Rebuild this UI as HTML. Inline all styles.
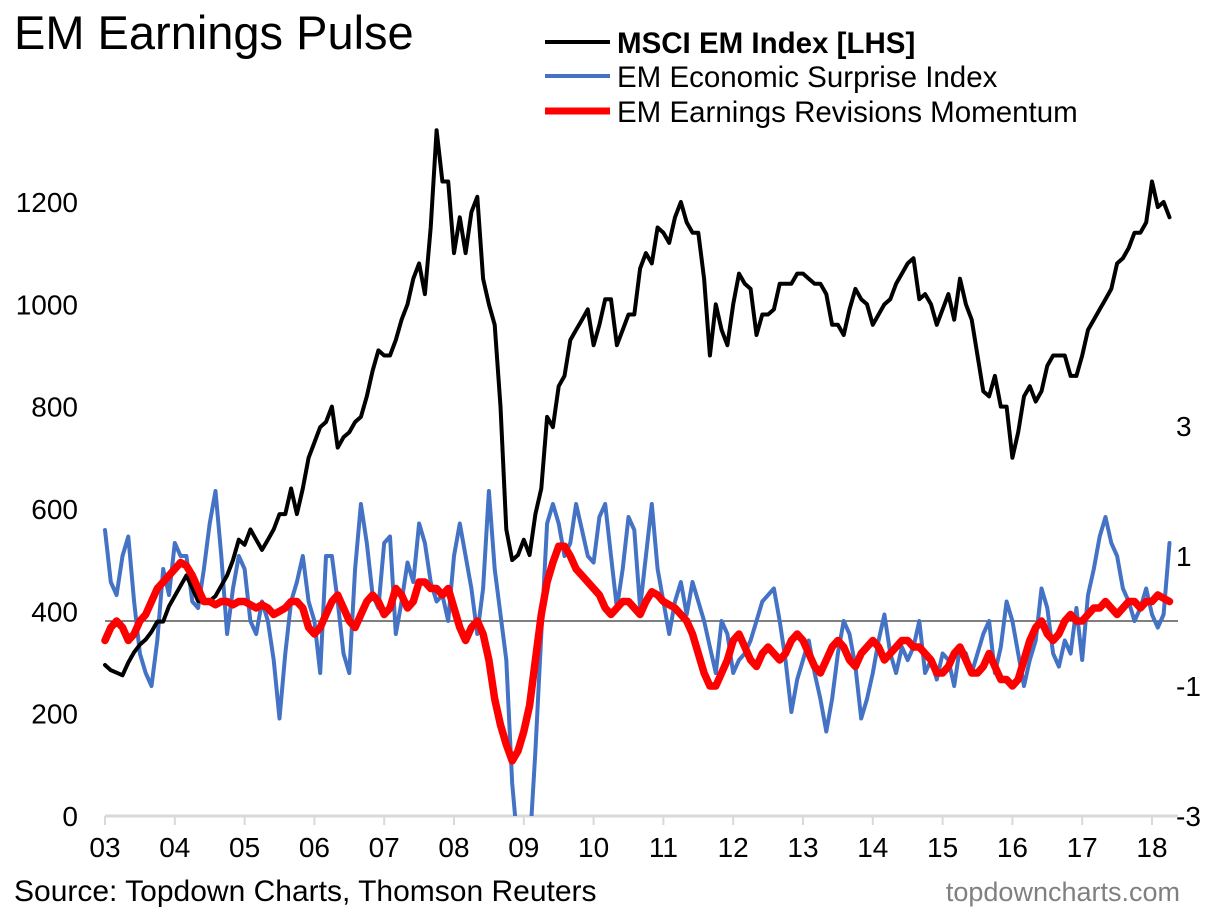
<!DOCTYPE html>
<html><head><meta charset="utf-8"><style>
body{margin:0;background:#fff;}
svg{display:block;font-family:"Liberation Sans",sans-serif;}
</style></head><body>
<svg width="1219" height="917" viewBox="0 0 1219 917">
<text x="14" y="49" font-size="47" fill="#000">EM Earnings Pulse</text>
<g>
<line x1="545" y1="42" x2="610" y2="42" stroke="#000" stroke-width="4"/>
<text x="617" y="53" font-size="29.5" font-weight="bold">MSCI EM Index [LHS]</text>
<line x1="545" y1="76" x2="610" y2="76" stroke="#4472C4" stroke-width="4"/>
<text x="617" y="87" font-size="29.5">EM Economic Surprise Index</text>
<line x1="545" y1="111" x2="610" y2="111" stroke="#f00" stroke-width="7"/>
<text x="617" y="122" font-size="29.5">EM Earnings Revisions Momentum</text>
</g>
<defs><clipPath id="pc"><rect x="100" y="100" width="1090" height="716"/></clipPath></defs>
<g id="yl"></g>
<g id="yr"></g>
<line x1="105" y1="621" x2="1178" y2="621" stroke="#000" stroke-width="1"/>
<g id="xa"></g>
<g clip-path="url(#pc)" id="series"></g>
<text x="14" y="901" font-size="30">Source: Topdown Charts, Thomson Reuters</text>
<text x="1180" y="901" font-size="27" fill="#808080" text-anchor="end">topdowncharts.com</text>
</svg>
<script>
const yearLabels=["03","04","05","06","07","08","09","10","11","12","13","14","15","16","17","18"];
const leftTicks=[0,200,400,600,800,1000,1200];
const rightTicks=[3,1,-1,-3];
const msci=[295,285,280,275,300,320,335,345,360,380,380,410,
430,450,470,445,420,420,420,430,450,470,500,540,
530,560,540,520,540,560,590,590,640,590,640,700,
730,760,770,800,720,740,750,770,780,820,870,910,
900,900,930,970,1000,1050,1080,1020,1150,1340,1240,1240,
1100,1170,1100,1180,1210,1050,1000,960,800,560,500,510,
540,510,590,640,780,760,840,860,930,950,970,990,
920,960,1010,1010,920,950,980,980,1070,1100,1080,1150,
1140,1120,1170,1200,1160,1140,1140,1050,900,1000,950,920,
1000,1060,1040,1030,940,980,980,990,1040,1040,1040,1060,
1060,1050,1040,1040,1020,960,960,940,990,1030,1010,1000,
960,980,1000,1010,1040,1060,1080,1090,1010,1020,1000,960,
990,1020,970,1050,1000,970,900,830,820,860,800,800,
700,750,820,840,810,830,880,900,900,900,860,860,
900,950,970,990,1010,1030,1080,1090,1110,1140,1140,1160,
1240,1190,1200,1170];
const surprise=[1.4,0.6,0.4,1.0,1.3,0.3,-0.5,-0.8,-1.0,-0.3,0.8,0.4,
1.2,1.0,1.0,0.3,0.2,0.8,1.5,2.0,1.0,-0.2,0.5,1.0,
0.8,0.0,-0.2,0.3,0.0,-0.6,-1.5,-0.5,0.3,0.6,1.0,0.3,
0.0,-0.8,1.0,1.0,0.3,-0.5,-0.8,0.8,1.8,1.2,0.4,0.2,
1.2,1.3,-0.2,0.3,0.9,0.6,1.5,1.2,0.6,0.3,0.4,0.0,
1.0,1.5,1.0,0.5,-0.2,0.5,2.0,0.8,0.1,-0.6,-2.5,-3.5,
-4.0,-3.5,-2.0,-0.2,1.5,1.8,1.5,1.0,1.2,1.8,1.4,1.0,
0.9,1.6,1.8,1.0,0.2,0.8,1.6,1.4,0.2,1.0,1.8,0.8,
0.3,-0.2,0.3,0.6,0.1,0.6,0.3,0.0,-0.4,-0.8,0.0,-0.2,
-0.8,-0.6,-0.5,-0.3,0.0,0.3,0.4,0.5,0.0,-0.6,-1.4,-0.9,
-0.6,-0.3,-0.8,-1.2,-1.7,-1.2,-0.5,0.0,-0.2,-0.7,-1.5,-1.2,
-0.8,-0.3,0.1,-0.5,-0.8,-0.4,-0.6,-0.4,0.0,-0.8,-0.6,-0.9,
-0.5,-0.6,-1.0,-0.4,-0.5,-0.8,-0.5,-0.2,0.0,-0.8,-0.4,0.3,
0.0,-0.5,-1.0,-0.6,-0.3,0.5,0.2,-0.5,-0.7,-0.3,-0.5,0.2,
-0.6,0.4,0.8,1.3,1.6,1.2,1.0,0.5,0.3,0.0,0.2,0.5,
0.1,-0.1,0.1,1.2];
const revisions=[-0.3,-0.1,0.0,-0.1,-0.3,-0.2,0.0,0.1,0.3,0.5,0.6,0.7,
0.8,0.9,0.85,0.7,0.5,0.3,0.3,0.25,0.3,0.3,0.25,0.3,
0.3,0.25,0.2,0.25,0.2,0.1,0.15,0.2,0.3,0.3,0.2,-0.1,
-0.2,-0.1,0.1,0.3,0.4,0.2,0.0,-0.1,0.1,0.3,0.4,0.3,
0.1,0.2,0.5,0.4,0.2,0.3,0.6,0.6,0.5,0.5,0.4,0.5,
0.2,-0.1,-0.3,-0.1,0.0,-0.2,-0.6,-1.2,-1.6,-1.9,-2.15,-2.0,
-1.7,-1.3,-0.6,0.1,0.6,0.9,1.15,1.15,1.0,0.8,0.7,0.6,
0.5,0.4,0.2,0.1,0.2,0.3,0.3,0.2,0.1,0.3,0.45,0.4,
0.3,0.25,0.2,0.1,0.0,-0.2,-0.5,-0.8,-1.0,-1.0,-0.8,-0.6,
-0.3,-0.2,-0.4,-0.6,-0.7,-0.5,-0.4,-0.5,-0.6,-0.5,-0.3,-0.2,
-0.3,-0.5,-0.7,-0.8,-0.6,-0.4,-0.3,-0.4,-0.6,-0.7,-0.5,-0.4,
-0.3,-0.4,-0.6,-0.5,-0.4,-0.3,-0.3,-0.4,-0.4,-0.5,-0.6,-0.8,
-0.8,-0.7,-0.5,-0.4,-0.6,-0.8,-0.8,-0.7,-0.5,-0.7,-0.9,-0.9,
-1.0,-0.9,-0.6,-0.3,-0.1,0.0,-0.2,-0.3,-0.2,0.0,0.1,0.0,
0.0,0.1,0.2,0.2,0.3,0.2,0.1,0.2,0.3,0.3,0.2,0.3,
0.3,0.4,0.35,0.3];

const NS="http://www.w3.org/2000/svg";
const X0=105,YEARPX=69.8;
function xPos(i){return X0+(i/12)*YEARPX;}
function yLeft(v){return 816-v*0.5117;}
function yRight(v){return 621-v*65;}
function mk(tag,attrs,parent){const e=document.createElementNS(NS,tag);for(const k in attrs)e.setAttribute(k,attrs[k]);parent.appendChild(e);return e;}

const yl=document.getElementById('yl');
leftTicks.forEach(v=>{const t=mk('text',{x:78,y:yLeft(v)+10,'font-size':28,'text-anchor':'end'},yl);


t.textContent=v;});
const yr=document.getElementById('yr');
rightTicks.forEach(v=>{const t=mk('text',{x:1176,y:yRight(v)+10,'font-size':28},yr);


t.textContent=v;});
const xa=document.getElementById('xa');
const ax=mk('line',{x1:105,y1:816,x2:1178,y2:816,stroke:'#d9d9d9','stroke-width':3},xa);


yearLabels.forEach((l,k)=>{const x=X0+k*YEARPX;
const tk=mk('line',{x1:x,y1:816,x2:x,y2:825,stroke:'#d9d9d9','stroke-width':2},xa);


const t=mk('text',{x:x,y:857,'font-size':28,'text-anchor':'middle'},xa);


t.textContent=l;});

const sg=document.getElementById('series');
function path(arr,yf,color,w,name){const d=arr.map((v,i)=>(i?'L':'M')+xPos(i).toFixed(1)+','+yf(v).toFixed(1)).join('');
const p=mk('path',{d:d,fill:'none',stroke:color,'stroke-width':w,'stroke-linejoin':'round','stroke-linecap':'round'},sg);

}
path(surprise,yRight,'#4472C4',4,'surprise-line');
path(msci,yLeft,'#000',4,'msci-line');
path(revisions,yRight,'#f00',7.5,'revisions-line');
</script>
</body></html>
